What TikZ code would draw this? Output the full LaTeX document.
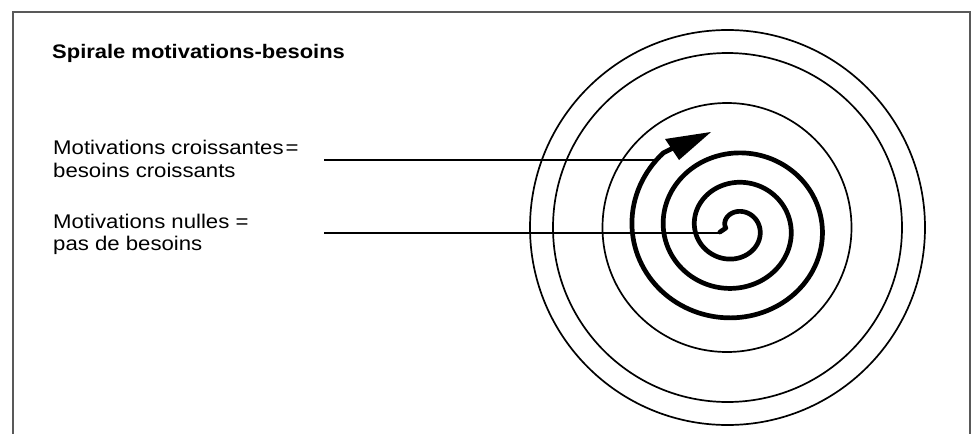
\documentclass[tikz,border=0pt]{standalone}
\usepackage{fontspec}
\newfontfamily\lblfont[FakeStretch=1.12]{Liberation Sans}
\begin{document}
\begin{tikzpicture}[x=1pt,y=-1pt,
  lbl/.style={font=\lblfont\fontsize{19.8}{23}\selectfont, anchor=base west, inner sep=0pt},
  ttl/.style={lbl, font=\lblfont\bfseries\fontsize{19.6}{23}\selectfont},
  ring/.style={line width=1.7pt},
  leader/.style={line width=2.7pt},
  spir/.style={line width=4.7pt, line cap=round, line join=round},
  frame/.style={line width=1.2pt, draw=black!65}]
\useasboundingbox (0,0) rectangle (978,434);
\draw[frame] (13,440) -- (13,12) -- (970,12) -- (970,440);
% rings
\draw[ring] (727.5,227.5) circle[radius=197.5];
\draw[ring] (727.5,227.5) circle[radius=174.5];
\draw[ring] (727,227.5) circle[radius=124.5];
% texts
\node[ttl] (title) at (52,58) {Spirale motivations-besoins};
\node[lbl] (inc1) at (53,154) {Motivations croissantes\kern2pt=};
\node[lbl] (inc2) at (53,177) {besoins croissants};
\node[lbl] (nul1) at (53,228) {Motivations nulles =};
\node[lbl] (nul2) at (53,250) {pas de besoins};
% spiral
\draw[spir] (720,232) -- plot[domain=-90:1038, samples=400, variable=\t]
  ({735+1.06*(16+0.0819444*\t)*sin(\t)}, {228-(16+0.0819444*\t)*cos(\t)}) -- (673,148);
\fill (711,132) -- (665,139) -- (679,160) -- cycle;
% leader lines
\coordinate (sIn) at (720,233);
\coordinate (sOut) at (656,160);
\coordinate (l1) at (324,160);
\coordinate (l2) at (324,233);
\draw[leader] (l1) -- (sOut);
\draw[leader] (l2) -- (sIn);
\end{tikzpicture}
\end{document}
